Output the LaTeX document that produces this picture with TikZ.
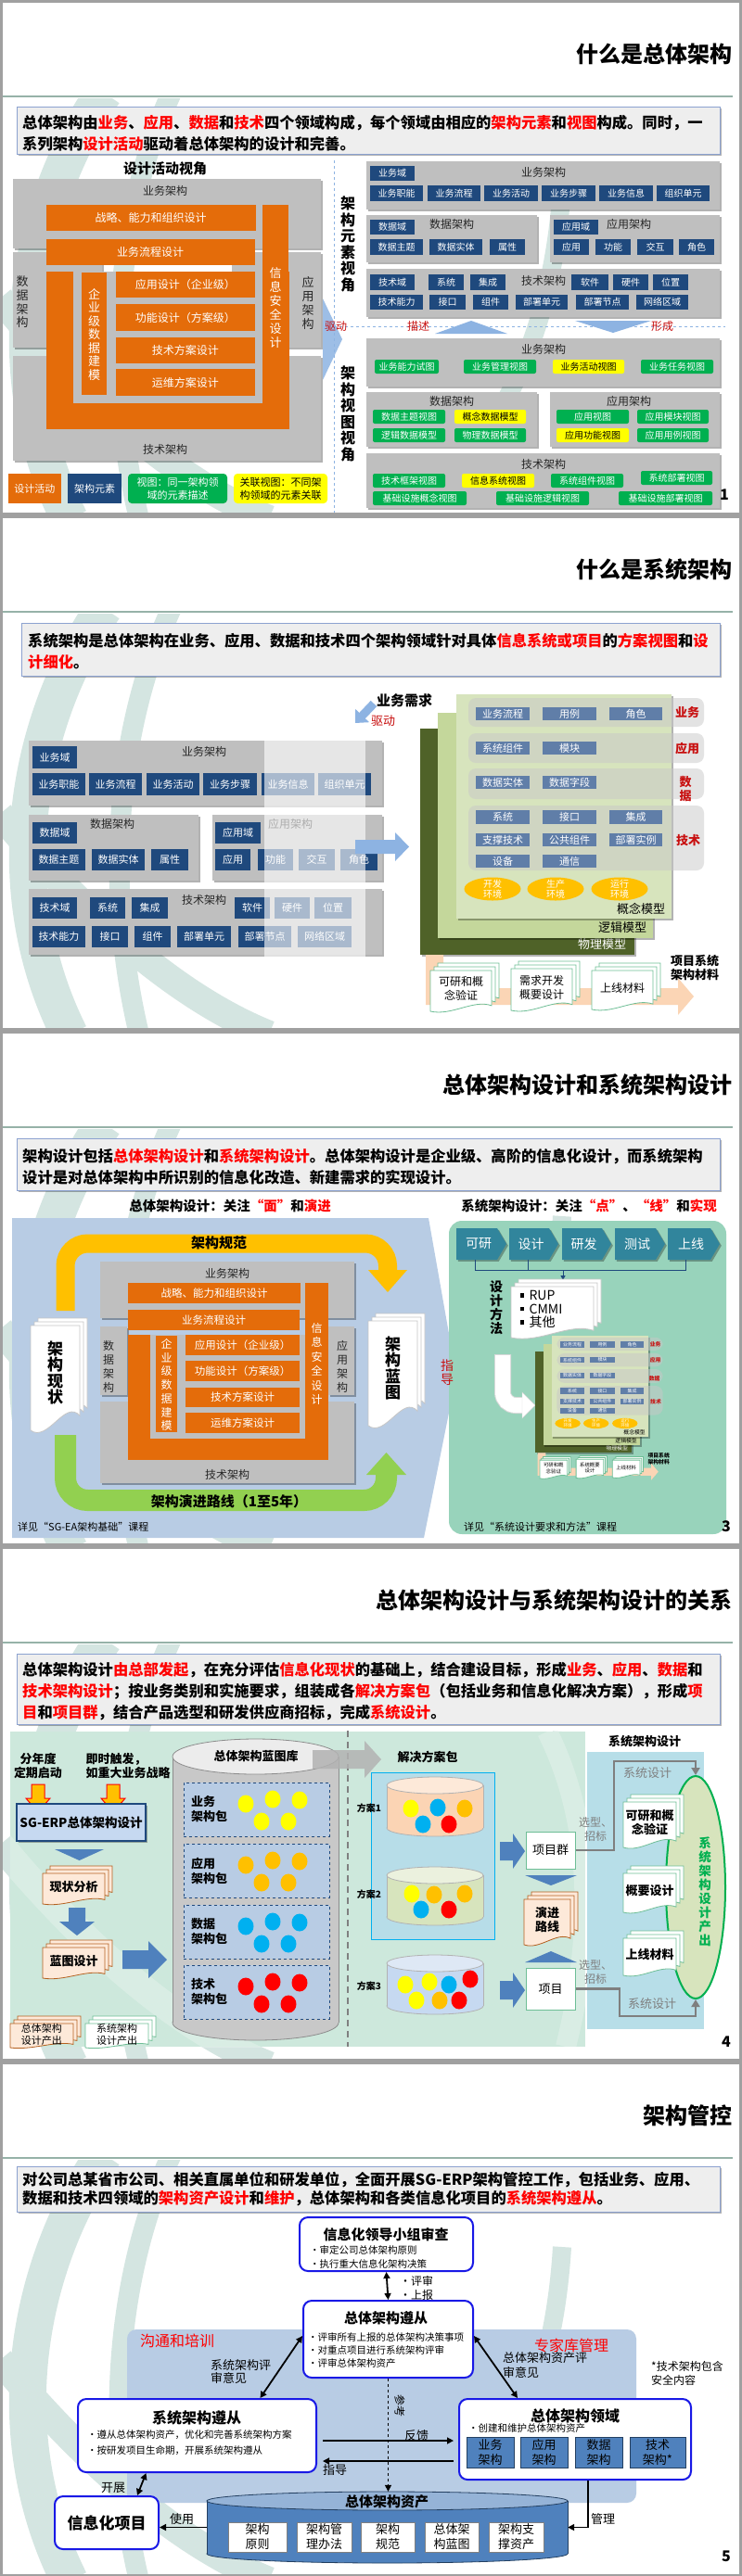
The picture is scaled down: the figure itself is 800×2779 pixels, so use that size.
\documentclass[tikz,border=0pt]{standalone}
\usepackage{fontspec}
\setmainfont{Noto Sans CJK SC}
\usetikzlibrary{shadows,arrows.meta,shapes.geometric,calc}

\definecolor{cBox}{RGB}{191,191,191}
\definecolor{cEl}{RGB}{31,73,125}
\definecolor{cOrg}{RGB}{228,108,10}
\definecolor{cGreen}{RGB}{0,176,80}
\definecolor{cYel}{RGB}{255,255,0}
\definecolor{cRed}{RGB}{255,0,0}
\definecolor{cDRed}{RGB}{200,16,16}
\definecolor{cIntroBg}{RGB}{238,238,238}
\definecolor{cIntroBd}{RGB}{140,162,208}
\definecolor{cHd}{RGB}{150,178,168}
\definecolor{cFrame}{RGB}{160,160,160}
\definecolor{cWm}{RGB}{212,229,225}
\definecolor{cArrBl}{RGB}{141,179,226}
\definecolor{cSlate}{RGB}{96,126,168}
\definecolor{cPhys}{RGB}{79,98,40}
\definecolor{cLogi}{RGB}{196,215,155}
\definecolor{cConc}{RGB}{215,228,189}
\definecolor{cBand}{RGB}{200,200,200}
\definecolor{cEnv}{RGB}{255,192,0}
\definecolor{cPeach}{RGB}{251,213,181}
\definecolor{cDocG}{RGB}{110,190,150}
\definecolor{cPanel}{RGB}{184,204,228}
\definecolor{cTeal}{RGB}{152,211,187}
\definecolor{cChev}{RGB}{49,133,156}
\definecolor{cYArr}{RGB}{255,192,0}
\definecolor{cGArr}{RGB}{146,208,80}
\definecolor{cMint}{RGB}{205,232,220}
\definecolor{cSys}{RGB}{183,222,232}
\definecolor{cMed}{RGB}{79,129,189}
\definecolor{cSg}{RGB}{198,217,241}
\definecolor{cDocP}{RGB}{253,233,217}
\definecolor{cDocB}{RGB}{180,95,30}
\definecolor{cPkg}{RGB}{184,204,228}
\definecolor{cCyan}{RGB}{0,176,240}
\definecolor{cSol}{RGB}{183,221,232}
\definecolor{cC1}{RGB}{251,212,180}
\definecolor{cC1t}{RGB}{253,233,217}
\definecolor{cC2}{RGB}{215,228,189}
\definecolor{cC2t}{RGB}{235,241,222}
\definecolor{cC3}{RGB}{198,217,241}
\definecolor{cC3t}{RGB}{222,232,245}
\definecolor{cEll}{RGB}{215,228,189}
\definecolor{cReg}{RGB}{184,204,228}
\definecolor{cBrd}{RGB}{25,25,230}
\definecolor{cTxt}{RGB}{38,38,38}
\definecolor{cGTxt}{RGB}{127,127,127}
\definecolor{cCylG}{RGB}{200,200,200}
\definecolor{cCylGt}{RGB}{236,236,236}
\definecolor{cCylGl}{RGB}{140,140,140}
\definecolor{cCylB}{RGB}{79,129,189}
\definecolor{cCylBt}{RGB}{149,179,215}
\definecolor{cCylBl}{RGB}{36,64,97}
\definecolor{cDBlue}{RGB}{36,64,97}

\newcommand\fsz[2]{\fontsize{#1}{#2}\selectfont}
\newcommand\hl[1]{\textcolor{cRed}{#1}}
\newcommand\bul{\rule[0.22em]{0.32em}{0.32em}\hspace{0.4em}}

% box by corners: [extra]{style}{name}{x1}{y1}{x2}{y2}{text}
\newcommand\bx[8][]{\node[#2,inner sep=0pt,minimum width={(#6)-(#4)},minimum height={(#7)-(#5)},#1] (#3) at ({((#4)+(#6))/2},{((#5)+(#7))/2}) {#8};}

% document stack: [nodeopts]{name}{x1}{y1}{x2}{y2}{fill}{draw}{text}
\newcommand\docstack[9][]{%
 \pgfmathsetmacro\dsW{(#5)-(#3)-8}%
 \pgfmathsetmacro\dsH{(#6)-(#4)-8}%
 \foreach \dsk in {2,1,0}{%
  \pgfmathsetmacro\dsA{(#3)+4*\dsk}%
  \pgfmathsetmacro\dsB{(#4)+8-4*\dsk}%
  \filldraw[fill=#7,draw=#8,line width=0.8pt] (\dsA,\dsB) -- ({\dsA+\dsW},\dsB) -- ({\dsA+\dsW},{\dsB+0.86*\dsH}) .. controls ({\dsA+0.7*\dsW},{\dsB+0.7*\dsH}) and ({\dsA+0.35*\dsW},{\dsB+1.12*\dsH}) .. (\dsA,{\dsB+\dsH}) -- cycle;
 }%
 \node[inner sep=0pt,align=center,#1] (#2) at ({(#3)+\dsW/2},{(#4)+8+0.45*\dsH}) {#9};
}

% cylinder: {name}{x1}{x2}{ytop}{ybot}{ry}{body}{top}{line}
\newcommand\cylinder[9]{%
 \pgfmathsetmacro\cyRx{((#3)-(#2))/2}%
 \pgfmathsetmacro\cyCx{((#3)+(#2))/2}%
 \filldraw[fill=#7,draw=#9,line width=0.8pt] (\cyCx,#5) ellipse[x radius=\cyRx,y radius=#6];
 \fill[#7] (#2,#4) rectangle (#3,#5);
 \draw[#9,line width=0.8pt] (#2,#4) -- (#2,#5) (#3,#4) -- (#3,#5);
 \filldraw[fill=#8,draw=#9,line width=0.8pt] (\cyCx,#4) ellipse[x radius=\cyRx,y radius=#6];
 \node[inner sep=0pt,minimum width={(#3)-(#2)},minimum height={(#5)-(#4)+2*(#6)}] (#1) at (\cyCx,{((#4)+(#5))/2}) {};
}

% chevron: {name}{x1}{y1}{x2}{y2}{text}
\newcommand\chev[6]{%
 \fill[cChev,shd] (#2,#3) -- ({(#4)-10},#3) -- (#4,{((#3)+(#5))/2}) -- ({(#4)-10},#5) -- (#2,#5) -- cycle;
 \node[inner sep=0pt,text=white,font=\fsz{14}{14}] (#1) at ({((#2)+(#4))/2-3},{((#3)+(#5))/2}) {#6};
}

\newcommand\watermark{%
 \begin{scope}
 \clip (3,106) rectangle (797,553);
 \draw[cWm,line width=40pt] (112,100) .. controls (30,220) and (-5,400) .. (75,560);
 \draw[cWm,line width=22pt] (185,100) .. controls (125,230) and (112,400) .. (150,560);
 \draw[cWm,line width=30pt] (0,322) .. controls (90,430) and (190,520) .. (290,560);
 \draw[cWm,line width=20pt] (606,200) .. controls (600,300) and (575,385) .. (532,455);
 \end{scope}}

\newcommand\slidebg[2]{%
 \fill[white] (0,0) rectangle (800,556);
 \watermark
 \draw[cHd,line width=2pt] (3,104) -- (790,104);
 \node[ttl] (#1) at (790,58) {#2};
}
\newcommand\slideframe{\draw[cFrame,line width=3pt] (1.5,1.5) rectangle (798.5,554.5);}

% model figure in slide-2 coordinates: {prefix}{middle doc}{data label}
\newcommand\modelfig[3]{%
 \bx[shd]{fill=cPhys}{#1phys}{453}{230}{684}{474}{}
 \node[lab,text=white,font=\fsz{13}{13}] (#1physl) at (649,463) {物理模型};
 \bx[shd]{fill=cLogi}{#1logi}{472}{213}{704}{456}{}
 \node[lab,font=\fsz{13}{13}] (#1logil) at (671,445) {逻辑模型};
 \bx[shd]{fill=cConc}{#1conc}{492}{193}{724}{435}{}
 \node[lab,font=\fsz{13}{13}] (#1concl) at (691,424) {概念模型};
 \bx{band}{#1b1}{505}{197}{759}{228}{}
 \bx{band}{#1b2}{505}{235}{759}{267}{}
 \bx{band}{#1b3}{505}{273}{759}{306}{}
 \bx{band}{#1b4}{505}{313}{759}{383}{}
 \bx{mbox}{#1m1}{513}{207}{571}{221}{业务流程}
 \bx{mbox}{#1m2}{585}{207}{643}{221}{用例}
 \bx{mbox}{#1m3}{657}{207}{714}{221}{角色}
 \bx{mbox}{#1m4}{513}{244}{571}{258}{系统组件}
 \bx{mbox}{#1m5}{585}{244}{643}{258}{模块}
 \bx{mbox}{#1m6}{513}{281}{571}{295}{数据实体}
 \bx{mbox}{#1m7}{585}{281}{643}{295}{数据字段}
 \bx{mbox}{#1m8}{513}{318}{571}{333}{系统}
 \bx{mbox}{#1m9}{585}{318}{643}{333}{接口}
 \bx{mbox}{#1m10}{657}{318}{714}{333}{集成}
 \bx{mbox}{#1m11}{513}{343}{571}{357}{支撑技术}
 \bx{mbox}{#1m12}{585}{343}{643}{357}{公共组件}
 \bx{mbox}{#1m13}{657}{343}{714}{357}{部署实例}
 \bx{mbox}{#1m14}{513}{366}{571}{380}{设备}
 \bx{mbox}{#1m15}{585}{366}{643}{380}{通信}
 \node[bandl] (#1l1) at (741,213) {业务};
 \node[bandl] (#1l2) at (741,252) {应用};
 \node[bandl] (#1l3) at (739,295) {#3};
 \node[bandl] (#1l4) at (742,351) {技术};
 \fill[cEnv] (531,403) ellipse[x radius=30.5,y radius=12.5];
 \fill[cEnv] (599,403) ellipse[x radius=30.5,y radius=12.5];
 \fill[cEnv] (668,403) ellipse[x radius=30.5,y radius=12.5];
 \node[vtxt,text=white,font=\fsz{10}{11}] (#1e1) at (531,403) {开发\\环境};
 \node[vtxt,text=white,font=\fsz{10}{11}] (#1e2) at (599,403) {生产\\环境};
 \node[vtxt,text=white,font=\fsz{10}{11}] (#1e3) at (668,403) {运行\\环境};
 \fill[cPeach] (459,474) -- (478,474) -- (478,510) -- (731,510) -- (731,499) -- (748,519) -- (731,539) -- (731,528) -- (459,528) -- cycle;
 \docstack[font=\fsz{12}{15}]{#1d1}{464}{483}{538}{535}{white}{cDocG}{可研和概\\念验证}
 \docstack[font=\fsz{12}{15}]{#1d2}{551}{481}{625}{534}{white}{cDocG}{#2}
 \docstack[font=\fsz{12}{15}]{#1d3}{638}{483}{712}{533}{white}{cDocG}{上线材料}
 \node[vtxt,font=\bfseries\fsz{13}{15}] (#1mat) at (749,488) {项目系统\\架构材料};
}

\tikzset{
 shd/.style={drop shadow={shadow xshift=1.8pt,shadow yshift=-1.8pt,opacity=0.3,fill=black}},
 lab/.style={inner sep=0pt},
 ttl/.style={anchor=east,inner sep=0pt,font=\bfseries\fsz{24}{26}},
 ibox/.style={fill=cIntroBg,draw=cIntroBd,line width=1pt,shd},
 itxt/.style={anchor=west,align=left,inner sep=0pt,font=\bfseries\fsz{16.3}{23}},
 gbox/.style={fill=cBox,shd},
 glbl/.style={inner sep=0pt,text=cTxt,font=\fsz{12}{12}},
 el/.style={fill=cEl,text=white,font=\fsz{10}{10}},
 el2/.style={fill=cEl,text=white,font=\fsz{11}{11}},
 vg/.style={fill=cGreen,text=white,rounded corners=2pt,font=\fsz{10}{10}},
 vy/.style={fill=cYel,text=black,rounded corners=2pt,font=\fsz{10}{10}},
 org/.style={fill=cOrg,text=white,font=\fsz{12}{12}},
 vtxt/.style={align=center,inner sep=0pt},
 pnum/.style={inner sep=0pt,font=\bfseries\fsz{16}{16}},
 redl/.style={inner sep=0pt,text=cDRed,font=\fsz{12}{12}},
 mbox/.style={fill=cSlate,text=white,font=\fsz{11}{11}},
 band/.style={fill=cBand,fill opacity=0.5,rounded corners=8pt},
 bandl/.style={inner sep=0pt,align=center,text=cDRed,font=\bfseries\fsz{13}{15}},
 pkg/.style={fill=cPkg,draw=cEl,dashed,line width=0.8pt},
 dotn/.style={ellipse,inner sep=0pt,minimum width=17pt,minimum height=19pt},
 gbrd/.style={fill=white,draw=cBrd,line width=2pt,rounded corners=9pt},
 dbox/.style={fill=cMed,draw=cDBlue,line width=1pt,align=center,font=\fsz{13}{16}},
 wbox/.style={fill=white,draw=gray,line width=0.8pt,align=center,font=\fsz{13}{16}},
 arr/.style={line width=1.5pt,-{Triangle[length=7pt,width=7pt]}},
 dbl/.style={line width=1.8pt,{Triangle[length=7pt,width=7pt]}-{Triangle[length=7pt,width=7pt]}},
 l13/.style={inner sep=0pt,font=\fsz{13}{13}},
}

\begin{document}
\begin{tikzpicture}[x=1pt,y=-1pt]
\useasboundingbox (0,0) rectangle (800,2779);
\fill[cFrame] (0,0) rectangle (800,2779);

% ================= Slide 1 =================
\begin{scope}
\slidebg{sAtitle}{什么是总体架构}
\bx{ibox}{sAintro}{18}{115}{776}{166}{}
\node[itxt] (sAtext) at (24,143.5) {总体架构由\hl{业务}、\hl{应用}、\hl{数据}和\hl{技术}四个领域构成，每个领域由相应的\hl{架构元素}和\hl{视图}构成。同时，一\\系列架构\hl{设计活动}驱动着总体架构的设计和完善。};
\node[lab,font=\bfseries\fsz{15}{15}] (sAview) at (178,182) {设计活动视角};
\bx{gbox}{sAbiz}{14}{193}{346}{268}{}
\bx{gbox}{sAdcol}{14}{272}{110}{375}{}
\bx{gbox}{sAacol}{250}{272}{346}{375}{}
\bx{gbox}{sAtech}{14}{384}{346}{497}{}
\node[glbl] (sAbizl) at (178,206) {业务架构};
\node[glbl,vtxt,font=\fsz{13}{14.7}] (sAdcoll) at (24,326) {数\\据\\架\\构};
\node[glbl,vtxt,font=\fsz{13}{14.7}] (sAacoll) at (332,327) {应\\用\\架\\构};
\node[glbl] (sAtechl) at (178,485) {技术架构};
\bx{org}{sAbase}{49.5}{293}{312}{463}{}
\fill[cBox] (79,293) rectangle (283,435);
\bx{org}{sAsec}{283}{221}{311}{463}{}
\node[vtxt,text=white,font=\fsz{13}{15}] (sAsecl) at (297,332.5) {信\\息\\安\\全\\设\\计};
\bx{org}{sAstr}{49.5}{221}{275.5}{249}{战略、能力和组织设计}
\bx{org}{sAproc}{49.5}{258}{274.5}{286}{业务流程设计}
\bx{org}{sAent}{88}{294}{115}{426}{}
\node[vtxt,text=white,font=\fsz{13}{14.5}] (sAentl) at (101.5,360.5) {企\\业\\级\\数\\据\\建\\模};
\bx{org}{sAappd}{125}{293}{274.5}{321}{应用设计（企业级）}
\bx{org}{sAfund}{125}{328}{274.5}{357}{功能设计（方案级）}
\bx{org}{sAtechd}{125}{364}{274.5}{392}{技术方案设计}
\bx{org}{sAopsd}{125}{398}{274.5}{427}{运维方案设计}
\bx{org,font=\fsz{11}{11}}{sAlg1}{9}{511}{66}{543}{设计活动}
\bx{el,font=\fsz{11}{11}}{sAlg2}{73}{511}{131}{543}{架构元素}
\bx[align=center]{vg,rounded corners=4pt,font=\fsz{11}{14}}{sAlg3}{138}{511}{245}{543}{视图：同一架构领\\域的元素描述}
\bx[align=center]{vy,rounded corners=4pt,font=\fsz{11}{14}}{sAlg4}{252}{511}{353}{543}{关联视图：不同架\\构领域的元素关联}
% separators
\draw[cArrBl,dashed,line width=0.8pt] (360,173) -- (360,553);
\fill[cArrBl,opacity=0.85] (348,322) -- (369,366) -- (348,410) -- cycle;
\draw[cArrBl,dashed,line width=0.8pt] (360,352) -- (782,352);
\fill[cArrBl] (469,360) -- (508,346) -- (547,360) -- cycle;
\fill[cArrBl] (620,346) -- (702,346) -- (661,359) -- cycle;
\node[redl] (sAdrive) at (362,352) {驱动};
\node[redl] (sAdesc) at (451,352) {描述};
\node[redl] (sAform) at (714,352) {形成};
\node[vtxt,font=\bfseries\fsz{16}{17.5}] (sAelv) at (375,263.5) {架\\构\\元\\素\\视\\角};
\node[vtxt,font=\bfseries\fsz{16}{17.5}] (sAvwv) at (375,446.5) {架\\构\\视\\图\\视\\角};
% element boxes
\bx{gbox}{sAeb}{395}{174}{776}{226}{}
\node[glbl] (sAebl) at (586,186) {业务架构};
\bx{el}{sAeb0}{399}{179}{447}{195}{业务域}
\bx{el}{sAeb1}{399}{200}{456}{217}{业务职能}
\bx{el}{sAeb2}{461}{200}{518}{217}{业务流程}
\bx{el}{sAeb3}{522}{200}{580}{217}{业务活动}
\bx{el}{sAeb4}{584}{200}{642}{217}{业务步骤}
\bx{el}{sAeb5}{646}{200}{704}{217}{业务信息}
\bx{el}{sAeb6}{708}{200}{765}{217}{组织单元}
\bx{gbox}{sAed}{395}{232}{579}{283}{}
\node[glbl] (sAedl) at (487,242) {数据架构};
\bx{el}{sAed0}{399}{237}{447}{253}{数据域}
\bx{el}{sAed1}{399}{258}{456}{275}{数据主题}
\bx{el}{sAed2}{463}{258}{520}{275}{数据实体}
\bx{el}{sAed3}{528}{258}{566}{275}{属性}
\bx{gbox}{sAea}{593}{232}{776}{283}{}
\node[glbl] (sAeal) at (678,242) {应用架构};
\bx{el}{sAea0}{597}{237}{645}{253}{应用域}
\bx{el}{sAea1}{597}{258}{635}{275}{应用}
\bx{el}{sAea2}{642}{258}{680}{275}{功能}
\bx{el}{sAea3}{687}{258}{726}{275}{交互}
\bx{el}{sAea4}{732}{258}{770}{275}{角色}
\bx{gbox}{sAet}{395}{290}{776}{342}{}
\node[glbl] (sAetl) at (586,303) {技术架构};
\bx{el}{sAet0}{399}{296}{447}{313}{技术域}
\bx{el}{sAet1}{462}{296}{500}{313}{系统}
\bx{el}{sAet2}{507}{296}{545}{313}{集成}
\bx{el}{sAet3}{616}{296}{656}{313}{软件}
\bx{el}{sAet4}{661}{296}{699}{313}{硬件}
\bx{el}{sAet5}{704}{296}{742}{313}{位置}
\bx{el}{sAet6}{399}{318}{456}{334}{技术能力}
\bx{el}{sAet7}{463}{318}{502}{334}{接口}
\bx{el}{sAet8}{510}{318}{548}{334}{组件}
\bx{el}{sAet9}{556}{318}{612}{334}{部署单元}
\bx{el}{sAet10}{621}{318}{678}{334}{部署节点}
\bx{el}{sAet11}{686}{318}{742}{334}{网络区域}
% view boxes
\bx{gbox}{sAvb}{395}{365}{776}{417}{}
\node[glbl] (sAvbl) at (586,377) {业务架构};
\bx{vg}{sAvb1}{404}{388}{473}{403}{业务能力试图}
\bx{vg}{sAvb2}{500}{388}{578}{403}{业务管理视图}
\bx{vy}{sAvb3}{596}{388}{673}{403}{业务活动视图}
\bx{vg}{sAvb4}{691}{388}{769}{403}{业务任务视图}
\bx{gbox}{sAvd}{395}{423}{579}{482}{}
\node[glbl] (sAvdl) at (487,433) {数据架构};
\bx{vg}{sAvd1}{402}{442}{480}{457}{数据主题视图}
\bx{vy}{sAvd2}{490}{442}{567}{457}{概念数据模型}
\bx{vg}{sAvd3}{402}{462}{480}{477}{逻辑数据模型}
\bx{vg}{sAvd4}{490}{462}{567}{477}{物理数据模型}
\bx{gbox}{sAva}{593}{423}{776}{482}{}
\node[glbl] (sAval) at (678,433) {应用架构};
\bx{vg}{sAva1}{600}{442}{678}{457}{应用视图}
\bx{vg}{sAva2}{687}{442}{764}{457}{应用模块视图}
\bx{vy}{sAva3}{600}{462}{678}{477}{应用功能视图}
\bx{vg}{sAva4}{687}{462}{764}{477}{应用用例视图}
\bx{gbox}{sAvt}{395}{489}{776}{548}{}
\node[glbl] (sAvtl) at (586,501) {技术架构};
\bx{vg}{sAvt1}{402}{511}{480}{526}{技术框架视图}
\bx{vy}{sAvt2}{498}{511}{576}{526}{信息系统视图}
\bx{vg}{sAvt3}{594}{511}{672}{526}{系统组件视图}
\bx{vg}{sAvt4}{691}{508}{768}{523}{系统部署视图}
\bx{vg}{sAvt5}{402}{530}{503}{545}{基础设施概念视图}
\bx{vg}{sAvt6}{535}{530}{635}{545}{基础设施逻辑视图}
\bx{vg}{sAvt7}{667}{530}{768}{545}{基础设施部署视图}
\node[pnum] (sAnum) at (781,534) {1};
\slideframe
\end{scope}

% ================= Slide 2 =================
\begin{scope}[yshift=-556pt]
\slidebg{sBtitle}{什么是系统架构}
\bx{ibox}{sBintro}{23}{116}{776}{173}{}
\node[itxt] (sBtext) at (30,146.5) {系统架构是总体架构在业务、应用、数据和技术四个架构领域针对具体\hl{信息系统或项目}的\hl{方案视图}和\hl{设}\\\hl{计细化}。};
\node[lab,font=\bfseries\fsz{15}{15}] (sBreq) at (436,200) {业务需求};
\draw[cArrBl,line width=9pt,-{Triangle[length=11pt,width=20pt]}] (403,203) -- (383,224);
\node[redl,font=\fsz{13}{13}] (sBdrive) at (413,222) {驱动};
\bx{gbox}{sBbiz}{31}{243}{412}{313}{}
\node[glbl] (sBbizl) at (220,255) {业务架构};
\bx{el2}{sBbdom}{35}{249}{83}{273}{业务域}
\bx{el2}{sBb1}{35}{278}{92}{302}{业务职能}
\bx{el2}{sBb2}{96}{278}{153}{302}{业务流程}
\bx{el2}{sBb3}{158}{278}{215}{302}{业务活动}
\bx{el2}{sBb4}{219}{278}{277}{302}{业务步骤}
\bx{el2}{sBb5}{282}{278}{339}{302}{业务信息}
\bx{el2}{sBb6}{343}{278}{400}{302}{组织单元}
\bx{gbox}{sBdat}{31}{323}{214}{394}{}
\node[glbl] (sBdatl) at (121,333) {数据架构};
\bx{el2}{sBddom}{35}{331}{83}{354}{数据域}
\bx{el2}{sBd1}{35}{360}{92}{383}{数据主题}
\bx{el2}{sBd2}{99}{360}{156}{383}{数据实体}
\bx{el2}{sBd3}{163}{360}{203}{383}{属性}
\bx{gbox}{sBapp}{229}{323}{412}{394}{}
\node[glbl] (sBappl) at (313,333) {应用架构};
\bx{el2}{sBadom}{232}{331}{281}{354}{应用域}
\bx{el2}{sBa1}{232}{360}{270}{383}{应用}
\bx{el2}{sBa2}{278}{360}{316}{383}{功能}
\bx{el2}{sBa3}{322}{360}{361}{383}{交互}
\bx{el2}{sBa4}{367}{360}{407}{383}{角色}
\bx{gbox}{sBtec}{31}{403}{412}{474}{}
\node[glbl] (sBtecl) at (220,415) {技术架构};
\bx{el2}{sBtdom}{35}{412}{83}{435}{技术域}
\bx{el2}{sBt1}{97}{412}{135}{435}{系统}
\bx{el2}{sBt2}{142}{412}{181}{435}{集成}
\bx{el2}{sBt3}{253}{412}{291}{435}{软件}
\bx{el2}{sBt4}{296}{412}{334}{435}{硬件}
\bx{el2}{sBt5}{339}{412}{379}{435}{位置}
\bx{el2}{sBt6}{35}{443}{92}{466}{技术能力}
\bx{el2}{sBt7}{99}{443}{138}{466}{接口}
\bx{el2}{sBt8}{145}{443}{184}{466}{组件}
\bx{el2}{sBt9}{191}{443}{249}{466}{部署单元}
\bx{el2}{sBt10}{257}{443}{314}{466}{部署节点}
\bx{el2}{sBt11}{321}{443}{379}{466}{网络区域}
\fill[white,opacity=0.62] (285,243) rectangle (394,476);
\fill[cArrBl] (383,350) -- (426,350) -- (426,342) -- (441,357.5) -- (426,373) -- (426,365) -- (383,365) -- cycle;
\modelfig{sBm}{需求开发\\概要设计}{数\\据}
\slideframe
\end{scope}

% ================= Slide 3 =================
\begin{scope}[yshift=-1112pt]
\slidebg{sCtitle}{总体架构设计和系统架构设计}
\bx{ibox}{sCintro}{18}{116}{776}{172}{}
\node[itxt] (sCtext) at (24,146.5) {架构设计包括\hl{总体架构设计}和\hl{系统架构设计}。总体架构设计是企业级、高阶的信息化设计，而系统架构\\设计是对总体架构中所识别的信息化改造、新建需求的实现设计。};
\node[lab,font=\bfseries\fsz{14.5}{14.5}] (sCsubL) at (248,189) {总体架构设计：关注\hl{“面”}和\hl{演进}};
\node[lab,font=\bfseries\fsz{14.5}{14.5}] (sCsubR) at (635,189) {系统架构设计：关注\hl{“点”}、\hl{“线”}和\hl{实现}};
\fill[cPanel] (13,202) -- (462,202) -- (492,372) -- (457,547) -- (13,547) -- cycle;
\bx{fill=cTeal,rounded corners=14pt}{sCteal}{484}{205}{783}{543}{}
% yellow and green arrows
\draw[cYArr,line width=20pt,rounded corners=24pt] (70.5,302) -- (70.5,229.5) -- (418,229.5) -- (418,259);
\fill[cYArr] (397,258) -- (439,258) -- (418,282) -- cycle;
\node[lab,font=\bfseries\fsz{15}{15}] (sCnorm) at (236,229) {架构规范};
\draw[cGArr,line width=23pt,rounded corners=24pt] (70.5,436) -- (70.5,506.5) -- (416.5,506.5) -- (416.5,477);
\fill[cGArr] (395,479) -- (438,479) -- (416.5,455) -- cycle;
\node[lab,font=\bfseries\fsz{15}{15}] (sCevo) at (247,508) {架构演进路线（1至5年）};
% central diagram
\bx{gbox}{sCbiz}{108}{249}{382}{310}{}
\node[glbl] (sCbizl) at (245,262) {业务架构};
\bx{gbox}{sCdcol}{108}{319}{137}{393}{}
\bx{gbox}{sCacol}{354}{319}{382}{393}{}
\bx{gbox}{sCtech}{108}{400}{382}{488}{}
\node[glbl] (sCtechl) at (245,479) {技术架构};
\node[glbl,vtxt,font=\fsz{12}{15}] (sCdcoll) at (117,362.5) {数\\据\\架\\构};
\node[glbl,vtxt,font=\fsz{12}{15}] (sCacoll) at (369,362) {应\\用\\架\\构};
\bx{org}{sCbase}{138}{328}{354}{463}{}
\fill[cBox] (162,328) rectangle (329,440);
\bx{org}{sCsec}{329}{272}{354}{463}{}
\node[vtxt,text=white,font=\fsz{12}{15.4}] (sCsecl) at (341.5,359.5) {信\\息\\安\\全\\设\\计};
\bx{org,font=\fsz{11.5}{11.5}}{sCstr}{138}{272}{324}{294}{战略、能力和组织设计}
\bx{org,font=\fsz{11.5}{11.5}}{sCproc}{138}{301}{323}{323}{业务流程设计}
\bx{org}{sCent}{168}{329}{191}{433}{}
\node[vtxt,text=white,font=\fsz{12}{14.7}] (sCentl) at (179.5,382) {企\\业\\级\\数\\据\\建\\模};
\bx{org,font=\fsz{11.5}{11.5}}{sCappd}{200}{328}{323}{350}{应用设计（企业级）}
\bx{org,font=\fsz{11.5}{11.5}}{sCfund}{200}{356}{323}{378}{功能设计（方案级）}
\bx{org,font=\fsz{11.5}{11.5}}{sCtechd}{200}{385}{323}{406}{技术方案设计}
\bx{org,font=\fsz{11.5}{11.5}}{sCopsd}{200}{412}{323}{434}{运维方案设计}
\docstack[font=\bfseries\fsz{17}{17.5}]{sCnow}{33}{310}{94}{431}{white}{gray!45}{架\\构\\现\\状}
\docstack[font=\bfseries\fsz{17}{17.5}]{sCblue}{397}{305}{458}{426}{white}{gray!45}{架\\构\\蓝\\图}
\node[vtxt,text=cDRed,font=\fsz{14}{15}] (sCguide) at (482,368.5) {指\\导};
% right panel
\chev{sCc1}{492}{213}{546}{247}{可研}
\chev{sCc2}{549}{213}{602}{247}{设计}
\chev{sCc3}{606}{213}{659}{247}{研发}
\chev{sCc4}{663}{213}{717}{247}{测试}
\chev{sCc5}{720}{213}{776}{247}{上线}
\draw[cEl,line width=1pt] ([xshift=-4pt]sCc1.south |- 0,247) -- ++(0,11) -| ([xshift=-6pt]sCc5.south |- 0,247);
\draw[cEl,line width=1pt] ([xshift=-3.5pt]sCc2.south |- 0,247) -- ++(0,11);
\coordinate (sCjoin) at (607,258);
\coordinate (sCdocTop) at (607,269);
\draw[cEl,line width=1pt,-{Triangle[length=5pt,width=5pt]}] (sCjoin) -- (sCdocTop);
\docstack[font=\fsz{14}{14.5},align=left,text width=70pt]{sCmeth}{551}{268}{648}{331}{white}{gray!45}{\bul RUP\\\bul CMMI\\\bul 其他}
\node[vtxt,font=\bfseries\fsz{14}{15}] (sCmethl) at (535,298.5) {设\\计\\方\\法};
\draw[gray!30,line width=18pt,rounded corners=14pt] (542,349) -- (542,404) -- (564,404);
\draw[white,line width=16pt,rounded corners=14pt] (542,350) -- (542,404) -- (564,404);
\filldraw[fill=white,draw=gray!30] (563,390) -- (577,404) -- (563,418) -- cycle;
\begin{scope}[shift={(373.15,242.15)},scale=0.45,transform shape]
\modelfig{sCm}{系统概要\\设计}{数据}
\end{scope}
\node[anchor=west,inner sep=0pt,font=\fsz{11}{11}] (sCfn1) at (19,535) {详见“SG-EA架构基础”课程};
\node[anchor=west,inner sep=0pt,font=\fsz{11}{11}] (sCfn2) at (500,535) {详见“系统设计要求和方法”课程};
\node[pnum] (sCnum) at (783,535) {3};
\slideframe
\end{scope}

% ================= Slide 4 =================
\begin{scope}[yshift=-1668pt]
\slidebg{sDtitle}{总体架构设计与系统架构设计的关系}
\bx{ibox}{sDintro}{18}{116}{776}{192}{}
\node[itxt] (sDtext) at (24,156.5) {总体架构设计\hl{由总部发起}，在充分评估\hl{信息化现状}的基础上，结合建设目标，形成\hl{业务}、\hl{应用}、\hl{数据}和\\\hl{技术架构设计}；按业务类别和实施要求，组装成各\hl{解决方案包}（包括业务和信息化解决方案），形成\hl{项}\\\hl{目}和\hl{项目群}，结合产品选型和研发供应商招标，完成\hl{系统设计}。};
\begin{scope}
\clip (11,200) rectangle (631,540);
\fill[cMint] (11,200) rectangle (631,540);
\draw[white,opacity=0.25,line width=30pt] (0,322) .. controls (90,430) and (190,520) .. (290,560);
\draw[white,opacity=0.25,line width=22pt] (590,200) .. controls (640,300) and (640,420) .. (610,540);
\end{scope}
\bx{fill=cSys}{sDsys}{633}{222}{759}{521}{}
\node[lab,font=\bfseries\fsz{13}{13}] (sDsysl) at (695,211) {系统架构设计};
\draw[gray,line width=1.5pt,dash pattern=on 7pt off 5pt] (375,199) -- (375,540);
\node[vtxt,font=\bfseries\fsz{13}{15}] (sDyear) at (41,237.5) {分年度\\定期启动};
\node[align=left,inner sep=0pt,font=\bfseries\fsz{13}{15}] (sDnow) at (138,237.5) {即时触发，\\如重大业务战略};
\filldraw[fill=cEnv,draw=red,line width=1pt] (34,257) -- (48,257) -- (48,272) -- (54,272) -- (41,287) -- (28,272) -- (34,272) -- cycle;
\filldraw[fill=cEnv,draw=red,line width=1pt] (115,257) -- (129,257) -- (129,272) -- (135,272) -- (122,287) -- (109,272) -- (115,272) -- cycle;
\bx{fill=cSg,draw=cEl,line width=2pt,shd,font=\bfseries\fsz{13.5}{14}}{sDsg}{18}{278}{157}{318}{SG-ERP总体架构设计}
\fill[cMed] (59,327) -- (112,327) -- (85.5,339) -- cycle;
\docstack[font=\bfseries\fsz{13}{13}]{sDcur}{46}{345}{121}{386}{cDocP}{cDocB}{现状分析}
\fill[cMed] (74,390) -- (92,390) -- (92,405) -- (102,405) -- (83,420) -- (64,405) -- (74,405) -- cycle;
\docstack[font=\bfseries\fsz{13}{13}]{sDbp}{46}{425}{121}{466}{cDocP}{cDocB}{蓝图设计}
\fill[cMed] (132,436) -- (160,436) -- (160,426) -- (180,446) -- (160,466) -- (160,456) -- (132,456) -- cycle;
\docstack[font=\fsz{11}{13}]{sDlg1}{11}{507}{87}{541}{cDocP}{cDocB}{总体架构\\设计产出}
\docstack[font=\fsz{11}{13}]{sDlg2}{92}{507}{168}{541}{white}{cDocG}{系统架构\\设计产出}
% library cylinder
\cylinder{sDlib}{186}{365}{227}{514}{19}{cCylG}{cCylGt}{cCylGl}
\node[lab,font=\bfseries\fsz{13}{13}] (sDlibl) at (276,227) {总体架构蓝图库};
\bx{pkg}{sDp1}{198}{255}{355}{313}{}
\bx{pkg}{sDp2}{198}{321}{355}{379}{}
\bx{pkg}{sDp3}{198}{387}{355}{445}{}
\bx{pkg}{sDp4}{198}{452}{355}{510}{}
\node[anchor=west,align=left,inner sep=0pt,font=\bfseries\fsz{13}{16}] (sDp1l) at (206,284) {业务\\架构包};
\node[anchor=west,align=left,inner sep=0pt,font=\bfseries\fsz{13}{16}] (sDp2l) at (206,350) {应用\\架构包};
\node[anchor=west,align=left,inner sep=0pt,font=\bfseries\fsz{13}{16}] (sDp3l) at (206,416) {数据\\架构包};
\node[anchor=west,align=left,inner sep=0pt,font=\bfseries\fsz{13}{16}] (sDp4l) at (206,481) {技术\\架构包};
\foreach \dn/\dx/\dy in {a/265/-6,b/294/-11,c/323/-10,d/282/13,e/311/13}{
 \node[dotn,fill=cYel] (sDp1\dn) at (\dx,{284+\dy}) {};
 \node[dotn,fill=cEnv] (sDp2\dn) at (\dx,{350+\dy}) {};
 \node[dotn,fill=cCyan] (sDp3\dn) at (\dx,{416+\dy}) {};
 \node[dotn,fill=red] (sDp4\dn) at (\dx,{481+\dy}) {};
}
\fill[gray!60,opacity=0.85] (337,220) -- (393,220) -- (393,210) -- (411,230) -- (393,250) -- (393,240) -- (337,240) -- cycle;
\node[lab,font=\bfseries\fsz{13}{13}] (sDsolt) at (461,227) {解决方案包};
\bx{fill=cSol,draw=cCyan,line width=1pt}{sDsol}{400}{244}{533}{424}{}
\cylinder{sDs1}{417}{521}{258}{304}{9}{cC1}{cC1t}{gray!60}
\cylinder{sDs2}{417}{521}{355}{400}{9}{cC2}{cC2t}{gray!60}
\cylinder{sDs3}{417}{521}{450}{496}{9}{cC3}{cC3t}{gray!60}
\node[dotn,fill=cYel] (sDs1a) at (443,283) {};
\node[dotn,fill=cCyan] (sDs1b) at (472,282) {};
\node[dotn,fill=cEnv] (sDs1c) at (501,283) {};
\node[dotn,fill=cCyan] (sDs1d) at (456,300) {};
\node[dotn,fill=red] (sDs1e) at (484,300) {};
\node[dotn,fill=cYel] (sDs2a) at (444,375) {};
\node[dotn,fill=cEnv] (sDs2b) at (468,376) {};
\node[dotn,fill=cEnv] (sDs2c) at (501,375) {};
\node[dotn,fill=cCyan] (sDs2d) at (454,392) {};
\node[dotn,fill=red] (sDs2e) at (484,392) {};
\node[dotn,fill=cYel] (sDs3a) at (437,473) {};
\node[dotn,fill=cYel] (sDs3b) at (463,470) {};
\node[dotn,fill=cCyan] (sDs3c) at (484,473) {};
\node[dotn,fill=red] (sDs3d) at (507,467) {};
\node[dotn,fill=cYel] (sDs3e) at (449,490) {};
\node[dotn,fill=cEnv] (sDs3f) at (474,490) {};
\node[dotn,fill=red] (sDs3g) at (495,490) {};
\node[lab,font=\bfseries\fsz{10}{10}] (sDs1l) at (398,283) {方案1};
\node[lab,font=\bfseries\fsz{10}{10}] (sDs2l) at (398,376) {方案2};
\node[lab,font=\bfseries\fsz{10}{10}] (sDs3l) at (398,475) {方案3};
\fill[cMed] (539,319) -- (553,319) -- (553,310) -- (566,329) -- (553,348) -- (553,339) -- (539,339) -- cycle;
\fill[cMed] (539,469) -- (553,469) -- (553,460) -- (566,479) -- (553,498) -- (553,489) -- (539,489) -- cycle;
\node[ellipse,draw=cGreen,line width=2pt,fill=cEll,minimum width=64pt,minimum height=240pt,inner sep=0pt] (sDout) at (750,368) {};
\bx{fill=white,draw=cDocG,line width=1pt,font=\fsz{13}{13}}{sDgrp}{567}{308}{620}{348}{项目群}
\fill[cMed] (566,355) -- (622,355) -- (594,366) -- cycle;
\docstack[font=\bfseries\fsz{13}{15}]{sDroute}{565}{373}{623}{430}{cDocP}{cDocB}{演进\\路线}
\fill[cMed] (566,449) -- (622,449) -- (594,437) -- cycle;
\bx{fill=white,draw=cDocG,line width=1pt,font=\fsz{13}{13}}{sDprj}{567}{455}{620}{500}{项目}
\node[vtxt,text=cGTxt,font=\fsz{12}{15}] (sDsel1) at (642,305.5) {选型、\\招标};
\node[vtxt,text=cGTxt,font=\fsz{12}{15}] (sDsel2) at (642,459) {选型、\\招标};
\draw[cGTxt,line width=2.5pt,-{Triangle[length=8pt,width=9pt]}] (sDgrp.east) -| (662,232) -| (sDout.north);
\draw[cGTxt,line width=2.5pt,-{Triangle[length=8pt,width=9pt]}] (sDprj.east) -| (668,507) -| (sDout.south);
\node[lab,text=cGTxt,font=\fsz{13}{13}] (sDsd1) at (698,245) {系统设计};
\node[lab,text=cGTxt,font=\fsz{13}{13}] (sDsd2) at (703,494) {系统设计};
\node[vtxt,text=cGreen,font=\bfseries\fsz{13.5}{15}] (sDoutl) at (760,372.5) {系\\统\\架\\构\\设\\计\\产\\出};
\docstack[font=\bfseries\fsz{13}{15}]{sDsy1}{672}{268}{737}{325}{white}{cDocG}{可研和概\\念验证}
\docstack[font=\bfseries\fsz{13}{15}]{sDsy2}{672}{345}{737}{395}{white}{cDocG}{概要设计}
\docstack[font=\bfseries\fsz{13}{15}]{sDsy3}{672}{415}{737}{463}{white}{cDocG}{上线材料}
\node[pnum] (sDnum) at (783,535) {4};
\slideframe
\end{scope}

% ================= Slide 5 =================
\begin{scope}[yshift=-2224pt]
\slidebg{sEtitle}{架构管控}
\bx{ibox}{sEintro}{18}{113}{776}{162}{}
\node[itxt,font=\bfseries\fsz{16.3}{20}] (sEtext) at (24,138) {对公司总某省市公司、相关直属单位和研发单位，全面开展SG-ERP架构管控工作，包括业务、应用、\\数据和技术四领域的\hl{架构资产设计}和\hl{维护}，总体架构和各类信息化项目的\hl{系统架构遵从}。};
\bx{fill=cReg,rounded corners=10pt}{sEreg}{137}{289}{686}{476}{}
\node[lab,text=cRed,font=\fsz{16}{16}] (sEcomm) at (191,301) {沟通和培训};
\node[lab,text=cRed,font=\fsz{16}{16}] (sEexp) at (616,306) {专家库管理};
\bx{gbrd}{sEa}{323}{168}{510}{226}{}
\node[lab,font=\bfseries\fsz{15}{15}] (sEat) at (416,187) {信息化领导小组审查};
\node[anchor=west,align=left,inner sep=0pt,font=\fsz{10.5}{15}] (sEab) at (334,210.5) {•审定公司总体架构原则\\•执行重大信息化架构决策};
\bx{gbrd}{sEb}{327}{258}{510}{341}{}
\node[lab,font=\bfseries\fsz{15}{15}] (sEbt) at (416,277) {总体架构遵从};
\node[anchor=west,align=left,inner sep=0pt,font=\fsz{10.5}{14}] (sEbb) at (332,311) {•评审所有上报的总体架构决策事项\\•对重点项目进行系统架构评审\\•评审总体架构资产};
\bx{gbrd}{sEc}{84}{364}{341}{443}{}
\node[lab,font=\bfseries\fsz{16}{16}] (sEct) at (212,384) {系统架构遵从};
\node[anchor=west,align=left,inner sep=0pt,font=\fsz{10.5}{17}] (sEcb) at (94,411.5) {•遵从总体架构资产，优化和完善系统架构方案\\•按研发项目生命期，开展系统架构遵从};
\bx{gbrd}{sEd}{495}{364}{745}{451}{}
\node[lab,font=\bfseries\fsz{16}{16}] (sEdt) at (620,382) {总体架构领域};
\node[anchor=west,inner sep=0pt,font=\fsz{10.5}{10.5}] (sEdb) at (505,396) {•创建和维护总体架构资产};
\bx{dbox}{sEd1}{503}{405}{554}{438}{业务\\架构}
\bx{dbox}{sEd2}{561}{405}{612}{438}{应用\\架构}
\bx{dbox}{sEd3}{620}{405}{671}{438}{数据\\架构}
\bx{dbox}{sEd4}{679}{405}{739}{438}{技术\\架构*}
\node[anchor=west,align=left,inner sep=0pt,font=\fsz{12}{15}] (sEnote) at (702,336.5) {*技术架构包含\\安全内容};
\draw[dbl] (sEa.south) -- (sEb.north);
\node[anchor=west,align=left,inner sep=0pt,font=\fsz{12}{15}] (sEab2) at (431,244.5) {•评审\\•上报};
\draw[dbl] ([yshift=3.5pt]sEb.west) -- ([xshift=68pt]sEc.north);
\draw[dbl] ([yshift=3.5pt]sEb.east) -- ([xshift=-62pt]sEd.north);
\node[anchor=west,align=left,inner sep=0pt,font=\fsz{13}{14}] (sErv1) at (227,334.5) {系统架构评\\审意见};
\node[anchor=west,align=left,inner sep=0pt,font=\fsz{13}{16}] (sErv2) at (542,327.5) {总体架构资产评\\审意见};
\cylinder{sEcyl}{223}{612}{474}{531}{10}{cCylB}{cCylBt}{cCylBl}
\node[lab,font=\bfseries\fsz{15}{15}] (sEcylt) at (417,475) {总体架构资产};
\bx{wbox}{sEw1}{246}{497}{309}{529}{架构\\原则}
\bx{wbox}{sEw2}{320}{497}{379}{529}{架构管\\理办法}
\bx{wbox}{sEw3}{389}{497}{447}{529}{架构\\规范}
\bx{wbox}{sEw4}{458}{497}{516}{529}{总体架\\构蓝图}
\bx{wbox}{sEw5}{527}{497}{586}{529}{架构支\\撑资产}
\draw[line width=1.2pt,dashed,-{Triangle[length=7pt,width=7pt]}] (sEb.south) -- (sEb.south |- sEcyl.north);
\node[lab,rotate=-90,font=\fsz{12}{12}] (sEref) at (431,371) {参考};
\draw[arr,shorten <=6pt,shorten >=5pt] ([yshift=-5.5pt]sEc.east) -- ([yshift=-1.5pt]sEd.west);
\node[l13] (sEfb) at (449,404) {反馈};
\draw[arr,shorten <=5pt,shorten >=6pt] ([yshift=-23.5pt]sEd.west) -- ([yshift=-27.5pt]sEc.east);
\node[l13] (sEgd) at (361,441) {指导};
\bx{gbrd,font=\bfseries\fsz{17}{17}}{sEf}{59}{469}{171}{526}{信息化项目}
\draw[dbl] ([xshift=-55pt]sEc.south) -- ([xshift=33pt]sEf.north);
\node[l13] (sEkz) at (122,460) {开展};
\draw[arr] (sEcyl.west) -- (sEcyl.west -| sEf.east);
\node[l13] (sEuse) at (196,494) {使用};
\draw[arr] ([xshift=14pt]sEd.south) |- (sEcyl.east);
\node[l13] (sEmg) at (650,494) {管理};
\node[pnum] (sEnum) at (783,534) {5};
\slideframe
\end{scope}
\end{tikzpicture}
\end{document}
